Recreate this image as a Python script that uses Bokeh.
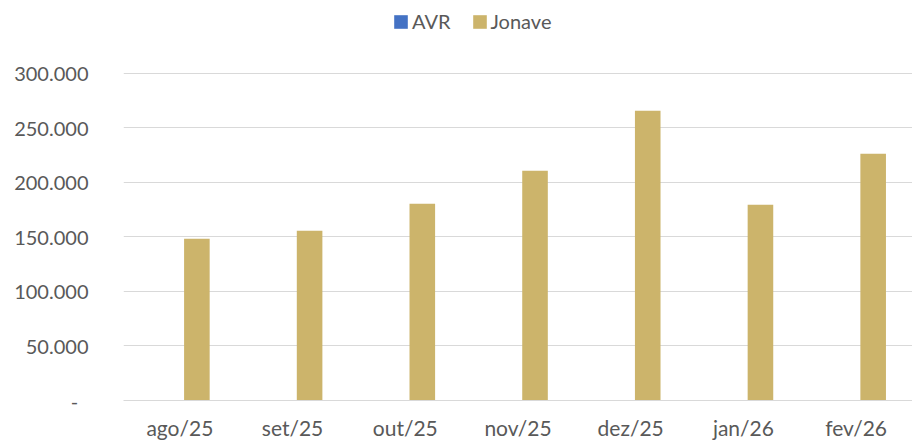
from bokeh.plotting import figure
from bokeh.models import FactorRange, Range1d, FixedTicker, Legend, LegendItem, ColumnDataSource
from bokeh.transform import dodge
from bokeh.embed import file_html
from bokeh.resources import INLINE

months = ["ago/25", "set/25", "out/25", "nov/25", "dez/25", "jan/26", "fev/26"]
avr = [0, 0, 0, 0, 0, 0, 0]
jonave = [148400, 155700, 180400, 210600, 265600, 179500, 226200]
y_ticks = [0, 50000, 100000, 150000, 200000, 250000, 300000]
y_tick_labels = ["-\u00a0\u00a0", "50.000", "100.000", "150.000", "200.000", "250.000", "300.000"]

FONT = "Lato"
TXT = "#595959"
GRID = "#d9d9d9"

src = ColumnDataSource(dict(month=months, avr=avr, jonave=jonave))

p = figure(width=912, height=442, output_backend="svg", toolbar_location=None,
           x_range=FactorRange(factors=months, range_padding=0),
           y_range=Range1d(0, 366800),
           min_border_left=123, min_border_right=0, min_border_top=0, min_border_bottom=41)
p.outline_line_color = None
p.background_fill_color = "white"

r_avr = p.vbar(x=dodge("month", -0.13, range=p.x_range), top="avr", width=0.227,
               source=src, fill_color="#4472C4", line_color=None)
r_jon = p.vbar(x=dodge("month", 0.151, range=p.x_range), top="jonave", width=0.227,
               source=src, fill_color="#CCB46B", line_color=None)

p.yaxis.ticker = FixedTicker(ticks=y_ticks)
p.yaxis.major_label_overrides = {t: l for t, l in zip(y_ticks, y_tick_labels)}
p.yaxis.axis_line_color = None
p.yaxis.major_tick_line_color = None
p.yaxis.minor_tick_line_color = None
p.yaxis.major_label_standoff = 29
p.yaxis.major_label_text_font = FONT
p.yaxis.major_label_text_font_size = "20px"
p.yaxis.major_label_text_color = TXT

p.xaxis.axis_line_color = GRID
p.xaxis.major_tick_line_color = None
p.xaxis.minor_tick_line_color = None
p.xaxis.major_label_standoff = 8
p.xaxis.major_label_text_font = FONT
p.xaxis.major_label_text_font_size = "21px"
p.xaxis.major_label_text_color = TXT

p.xgrid.grid_line_color = None
p.ygrid.grid_line_color = GRID
p.ygrid.grid_line_width = 1
p.ygrid.ticker = FixedTicker(ticks=y_ticks)

legend = Legend(items=[LegendItem(label="AVR", renderers=[r_avr]),
                       LegendItem(label="Jonave", renderers=[r_jon])],
                location=(269, 367), orientation="horizontal",
                label_text_font=FONT, label_text_font_size="20px", label_text_color=TXT,
                glyph_width=17, glyph_height=17, spacing=20, label_standoff=3,
                padding=2, margin=0, border_line_color=None, background_fill_alpha=0)
p.add_layout(legend, "center")

open("out.html", "w").write(file_html(p, INLINE))
